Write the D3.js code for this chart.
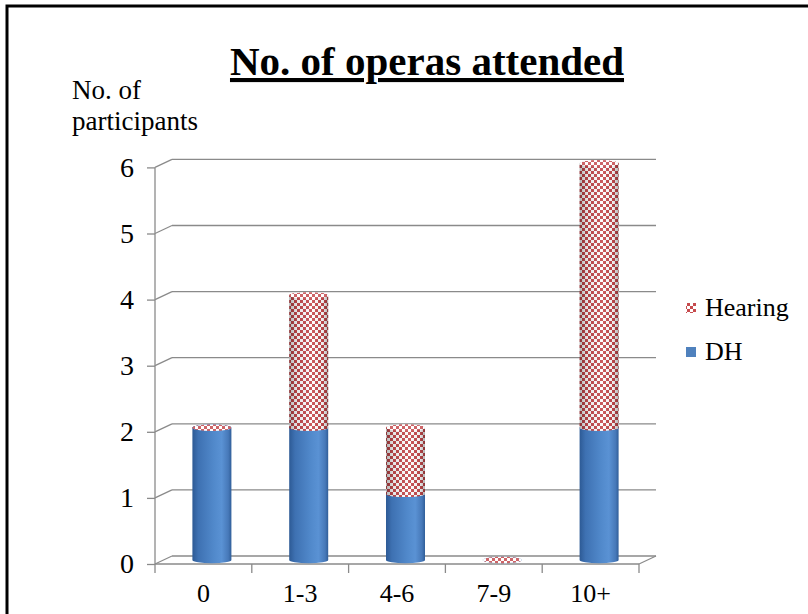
<!DOCTYPE html>
<html><head><meta charset="utf-8">
<script src="https://cdn.jsdelivr.net/npm/d3@7"></script>
<style>
html,body{margin:0;padding:0;background:#fff;}
svg{display:block;}
svg text{font-family:'Liberation Serif','Times New Roman',serif !important;}
</style>
</head><body>
<svg id="chart" width="808" height="614"></svg>
<script>
// Survey data: opera attendance by group
const categories = ["0", "1-3", "4-6", "7-9", "10+"];
const dhValues = [2, 2, 1, 0, 2];
const hearingValues = [0, 2, 1, 0, 4];
const yTicks = [0, 1, 2, 3, 4, 5, 6];
const legendItems = ["Hearing", "DH"];

const FONT = "'Liberation Serif', serif";
const svg = d3.select("#chart");
const defs = svg.append("defs");

// frame around the whole slide
svg.append("rect").attr("x", 7).attr("y", 6).attr("width", 900).attr("height", 700)
  .attr("fill", "none").attr("stroke", "#000").attr("stroke-width", 3);

// 3-D geometry: depth offset of the back wall
const DX = 17, DY = -8;
const x = d3.scaleBand().domain(categories).range([155, 639]).paddingInner(0).paddingOuter(0);
const y = d3.scaleLinear().domain([0, 6]).range([564, 167.4]);

// gradients for the cylinder shading
function hGrad(id, stops) {
  const g = defs.append("linearGradient").attr("id", id).attr("x1", 0).attr("x2", 1).attr("y1", 0).attr("y2", 0);
  stops.forEach(([o, c, a]) => g.append("stop").attr("offset", o).attr("stop-color", c).attr("stop-opacity", a == null ? 1 : a));
}
hGrad("blueBody", [[0, "#2D5A95"], [0.15, "#3E71B2"], [0.55, "#5189CB"], [0.75, "#5A92D4"], [0.92, "#4779B9"], [1, "#305E99"]]);
hGrad("blueCap", [[0, "#4A7CBD"], [0.5, "#6696D4"], [1, "#4A7CBD"]]);
hGrad("shade", [[0, "#000", 0.3], [0.2, "#000", 0.1], [0.6, "#fff", 0.1], [0.85, "#000", 0.06], [1, "#000", 0.3]]);

// small checkerboard pattern for the Hearing series
const pat = defs.append("pattern").attr("id", "checker").attr("patternUnits", "userSpaceOnUse")
  .attr("width", 6).attr("height", 6);
pat.append("rect").attr("width", 6).attr("height", 6).attr("fill", "#fff");
pat.append("rect").attr("width", 3).attr("height", 3).attr("fill", "#C64B4E");
pat.append("rect").attr("x", 3).attr("y", 3).attr("width", 3).attr("height", 3).attr("fill", "#C64B4E");

const grid = svg.append("g").attr("stroke", "#8a8a8a").attr("stroke-width", 1.3).attr("fill", "none");
const x0 = x.range()[0], x1 = x.range()[1];

// back-wall gridlines and the side-wall diagonals
yTicks.forEach(t => {
  grid.append("line").attr("x1", x0 + DX).attr("x2", x1 + DX).attr("y1", y(t) + DY).attr("y2", y(t) + DY);
  grid.append("line").attr("x1", x0).attr("x2", x0 + DX).attr("y1", y(t)).attr("y2", y(t) + DY);
});
// floor outline
grid.append("line").attr("x1", x0).attr("x2", x1).attr("y1", y(0)).attr("y2", y(0));
grid.append("line").attr("x1", x1).attr("x2", x1 + DX).attr("y1", y(0)).attr("y2", y(0) + DY);
// front vertical axis
grid.append("line").attr("x1", x0).attr("x2", x0).attr("y1", y(0)).attr("y2", y(6));
// category boundary ticks
const edges = categories.map(c => x(c)).concat([x1]);
edges.forEach(e => grid.append("line").attr("x1", e).attr("x2", e).attr("y1", y(0)).attr("y2", y(0) + 9));

// value axis labels
const yAxis = svg.append("g").attr("transform", `translate(${x0},0)`)
  .call(d3.axisLeft(y).tickValues(yTicks).tickSize(8).tickPadding(13).tickFormat(d3.format("d")));
yAxis.attr("font-family", FONT);
yAxis.select(".domain").remove();
yAxis.selectAll(".tick line").attr("stroke", "#8a8a8a").attr("stroke-width", 1.3);
yAxis.selectAll("text").attr("font-size", 28).attr("fill", "#000");

// category labels
const xAxis = svg.append("g").attr("transform", `translate(0,${y(0)})`)
  .call(d3.axisBottom(x).tickSize(0).tickPadding(20));
xAxis.attr("font-family", FONT);
xAxis.select(".domain").remove();
xAxis.selectAll("text").attr("font-size", 26).attr("fill", "#000");

// cylinders
const RX = 19.5, RY = 3.2;
const bars = svg.append("g");
function cylinder(cx, v0, v1, bodyFill, capFill, shaded) {
  const yb = y(v0) - 4, yt = y(v1) - 4;
  const l = cx - RX, r = cx + RX;
  const d = `M${l},${yt} L${l},${yb} A${RX},${RY} 0 0 0 ${r},${yb} L${r},${yt} A${RX},${RY} 0 0 0 ${l},${yt} Z`;
  if (v1 > v0) {
    bars.append("path").attr("d", d).attr("fill", bodyFill);
    if (shaded) bars.append("path").attr("d", d).attr("fill", "url(#shade)");
  }
  bars.append("ellipse").attr("cx", cx).attr("cy", yt).attr("rx", RX).attr("ry", RY).attr("fill", capFill);
  if (shaded) bars.append("ellipse").attr("cx", cx).attr("cy", yt).attr("rx", RX).attr("ry", RY)
    .attr("fill", "#fff").attr("fill-opacity", 0.15);
}
categories.forEach((c, i) => {
  const cx = x(c) + x.bandwidth() / 2 + DX / 2;
  cylinder(cx, 0, dhValues[i], "url(#blueBody)", "url(#blueCap)", false);
  cylinder(cx, dhValues[i], dhValues[i] + hearingValues[i], "url(#checker)", "url(#checker)", true);
});

// title
svg.append("text").attr("x", 427).attr("y", 75).attr("text-anchor", "middle")
  .attr("font-family", FONT).attr("font-size", 41).attr("font-weight", "bold")
  .attr("text-decoration", "underline")
  .text("No. of operas attended");

// value-axis title
const yt = svg.append("text").attr("font-family", FONT).attr("font-size", 27);
yt.append("tspan").attr("x", 72).attr("y", 99).text("No. of");
yt.append("tspan").attr("x", 72).attr("y", 130).text("participants");

// legend
const legend = svg.append("g").attr("font-family", FONT);
legendItems.forEach((name, i) => {
  const gy = 303 + i * 44;
  legend.append("rect").attr("x", 686).attr("y", gy).attr("width", 10).attr("height", 10)
    .attr("fill", name === "DH" ? "#4F81BD" : "url(#checker)");
  legend.append("text").attr("x", 705).attr("y", gy + 13).attr("font-size", 26).text(name);
});
</script>
</body></html>
